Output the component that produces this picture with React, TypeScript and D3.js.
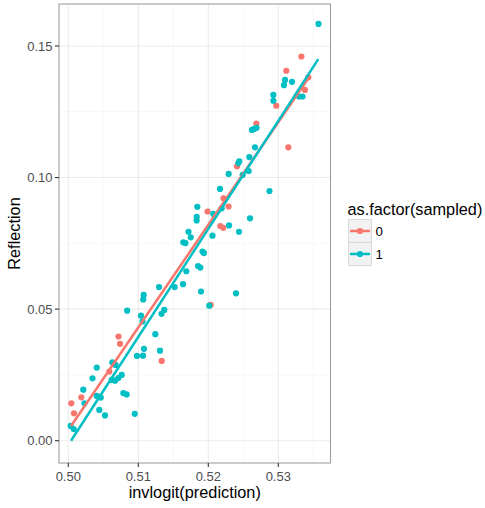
import React from "react";
import * as d3 from "d3";

// ---- data ----
const redX = [0.5333, 0.53114, 0.53429, 0.53381, 0.52971, 0.52686, 0.53143, 0.5241, 0.52217, 0.52289, 0.51989, 0.52171, 0.52214, 0.52034, 0.50717, 0.50739, 0.51334, 0.50586, 0.50186, 0.50043, 0.50081];
const redY = [0.146, 0.1406, 0.1381, 0.1333, 0.1273, 0.1205, 0.1115, 0.1043, 0.0921, 0.089, 0.0871, 0.0816, 0.0809, 0.0516, 0.0396, 0.0368, 0.0303, 0.0263, 0.0165, 0.0142, 0.0104];

const tealX = [0.53574, 0.53096, 0.53196, 0.53081, 0.53346, 0.53296, 0.52929, 0.52929, 0.52624, 0.52653, 0.52689, 0.52667, 0.52586, 0.52443, 0.52429, 0.52577, 0.52491, 0.52291, 0.52874, 0.52167, 0.52191, 0.51843, 0.52071, 0.51834, 0.51834, 0.52596, 0.52296, 0.52439, 0.5206, 0.51717, 0.51749, 0.51643, 0.51674, 0.51917, 0.51939, 0.51853, 0.51886, 0.51686, 0.51639, 0.51896, 0.52396, 0.5152, 0.51296, 0.51077, 0.51071, 0.50841, 0.51371, 0.51331, 0.51039, 0.5106, 0.52014, 0.51243, 0.5131, 0.51081, 0.51067, 0.50981, 0.50629, 0.50674, 0.50406, 0.50346, 0.5062, 0.50667, 0.50714, 0.50763, 0.50214, 0.50231, 0.50406, 0.50463, 0.50786, 0.50834, 0.50443, 0.50524, 0.50949, 0.50034, 0.50077];
const tealY = [0.1584, 0.1371, 0.1364, 0.1351, 0.1308, 0.1308, 0.1314, 0.1292, 0.1181, 0.1185, 0.1189, 0.1115, 0.1078, 0.1062, 0.1055, 0.1025, 0.101, 0.1014, 0.0949, 0.0957, 0.0883, 0.0889, 0.0862, 0.0851, 0.0837, 0.0845, 0.0818, 0.0794, 0.0779, 0.0794, 0.0773, 0.0754, 0.0751, 0.0719, 0.0713, 0.0664, 0.0658, 0.0644, 0.0595, 0.0567, 0.056, 0.0584, 0.0584, 0.0554, 0.0537, 0.0494, 0.0497, 0.0482, 0.0475, 0.0453, 0.0513, 0.0405, 0.0342, 0.0349, 0.0323, 0.0322, 0.0298, 0.0288, 0.0278, 0.0237, 0.0231, 0.0228, 0.0238, 0.025, 0.0194, 0.0142, 0.017, 0.0164, 0.0181, 0.0176, 0.0117, 0.0096, 0.0102, 0.0056, 0.0044];

// fitted lines (endpoints)
const redFitX = [0.50039, 0.53453];
const redFitY = [0.0056, 0.1387];
const tealFitX = [0.50039, 0.53571];
const tealFitY = [0.0, 0.145];

const xTicks = [0.5, 0.51, 0.52, 0.53];
const xMinor = [0.505, 0.515, 0.525, 0.535];
const yTicks = [0.0, 0.05, 0.1, 0.15];
const yMinor = [0.025, 0.075, 0.125];
const groups = ["0", "1"];
const colors = ["#F8766D", "#00BFC4"];

const W = 485;
const H = 508;
const PL = 59, PR = 330.5, PT = 4, PB = 463;

export default function App() {
  const x = d3.scaleLinear().domain([0.498671, 0.537457]).range([PL, PR]);
  const y = d3.scaleLinear().domain([-0.008475, 0.16596]).range([PB, PT]);
  const line = d3.line<[number, number]>().x((d) => x(d[0])).y((d) => y(d[1]));
  const font = "'Liberation Sans', Arial, Helvetica, sans-serif";
  const redPts = redX.map((v, i) => [v, redY[i]] as [number, number]);
  const tealPts = tealX.map((v, i) => [v, tealY[i]] as [number, number]);
  const fits = [
    redFitX.map((v, i) => [v, redFitY[i]] as [number, number]),
    tealFitX.map((v, i) => [v, tealFitY[i]] as [number, number]),
  ];
  const tickFmt = (v: number) => v.toFixed(2);
  return (
    <svg width={W} height={H} style={{ position: "absolute", left: 0, top: 0, background: "#fff" }} fontFamily={font}>
      <rect x={0} y={0} width={W} height={H} fill="#fff" />
      <defs>
        <clipPath id="clipP">
          <rect x={PL} y={PT} width={PR - PL} height={PB - PT} />
        </clipPath>
      </defs>
      <g clipPath="url(#clipP)">
        {xMinor.map((v) => (
          <line key={"xm" + v} x1={x(v)} x2={x(v)} y1={PT} y2={PB} stroke="#f2f2f2" strokeWidth={0.6} />
        ))}
        {yMinor.map((v) => (
          <line key={"ym" + v} x1={PL} x2={PR} y1={y(v)} y2={y(v)} stroke="#f2f2f2" strokeWidth={0.6} />
        ))}
        {xTicks.map((v) => (
          <line key={"xg" + v} x1={x(v)} x2={x(v)} y1={PT} y2={PB} stroke="#ebebeb" strokeWidth={1.1} />
        ))}
        {yTicks.map((v) => (
          <line key={"yg" + v} x1={PL} x2={PR} y1={y(v)} y2={y(v)} stroke="#ebebeb" strokeWidth={1.1} />
        ))}
        {redPts.map((d, i) => (
          <circle key={"r" + i} cx={x(d[0])} cy={y(d[1])} r={3.1} fill={colors[0]} />
        ))}
        {tealPts.map((d, i) => (
          <circle key={"t" + i} cx={x(d[0])} cy={y(d[1])} r={3.1} fill={colors[1]} />
        ))}
        {fits.map((f, i) => (
          <path key={"f" + i} d={line(f) || ""} fill="none" stroke={colors[i]} strokeWidth={2.5} />
        ))}
      </g>
      <rect x={PL} y={PT} width={PR - PL} height={PB - PT} fill="none" stroke="#9e9e9e" strokeWidth={1.1} />
      {xTicks.map((v) => (
        <g key={"xt" + v}>
          <line x1={x(v)} x2={x(v)} y1={PB} y2={PB + 4} stroke="#333" strokeWidth={1.1} />
          <text x={x(v)} y={480.5} textAnchor="middle" fontSize={13} fill="#4d4d4d">{tickFmt(v)}</text>
        </g>
      ))}
      {yTicks.map((v) => (
        <g key={"yt" + v}>
          <line x1={PL - 4} x2={PL} y1={y(v)} y2={y(v)} stroke="#333" strokeWidth={1.1} />
          <text x={PL - 6.5} y={y(v) + 4.6} textAnchor="end" fontSize={13} fill="#4d4d4d">{tickFmt(v)}</text>
        </g>
      ))}
      <text x={(PL + PR) / 2} y={498} textAnchor="middle" fontSize={16.3} fill="#000">invlogit(prediction)</text>
      <text transform={`translate(19.5, ${(PT + PB) / 2}) rotate(-90)`} textAnchor="middle" fontSize={16.3} fill="#000">Reflection</text>
      <text x={347.5} y={214.5} fontSize={16.3} fill="#000">as.factor(sampled)</text>
      {groups.map((g, i) => {
        const ky = 219.5 + i * 23;
        return (
          <g key={"lg" + g}>
            <rect x={348.5} y={ky} width={23} height={23} fill="#f2f2f2" stroke="#d9d9d9" strokeWidth={1} />
            <line x1={350} x2={370} y1={ky + 11.5} y2={ky + 11.5} stroke={colors[i]} strokeWidth={2.5} />
            <circle cx={360} cy={ky + 11.5} r={3.1} fill={colors[i]} />
            <text x={375.5} y={ky + 16.3} fontSize={13.3} fill="#000">{g}</text>
          </g>
        );
      })}
    </svg>
  );
}
